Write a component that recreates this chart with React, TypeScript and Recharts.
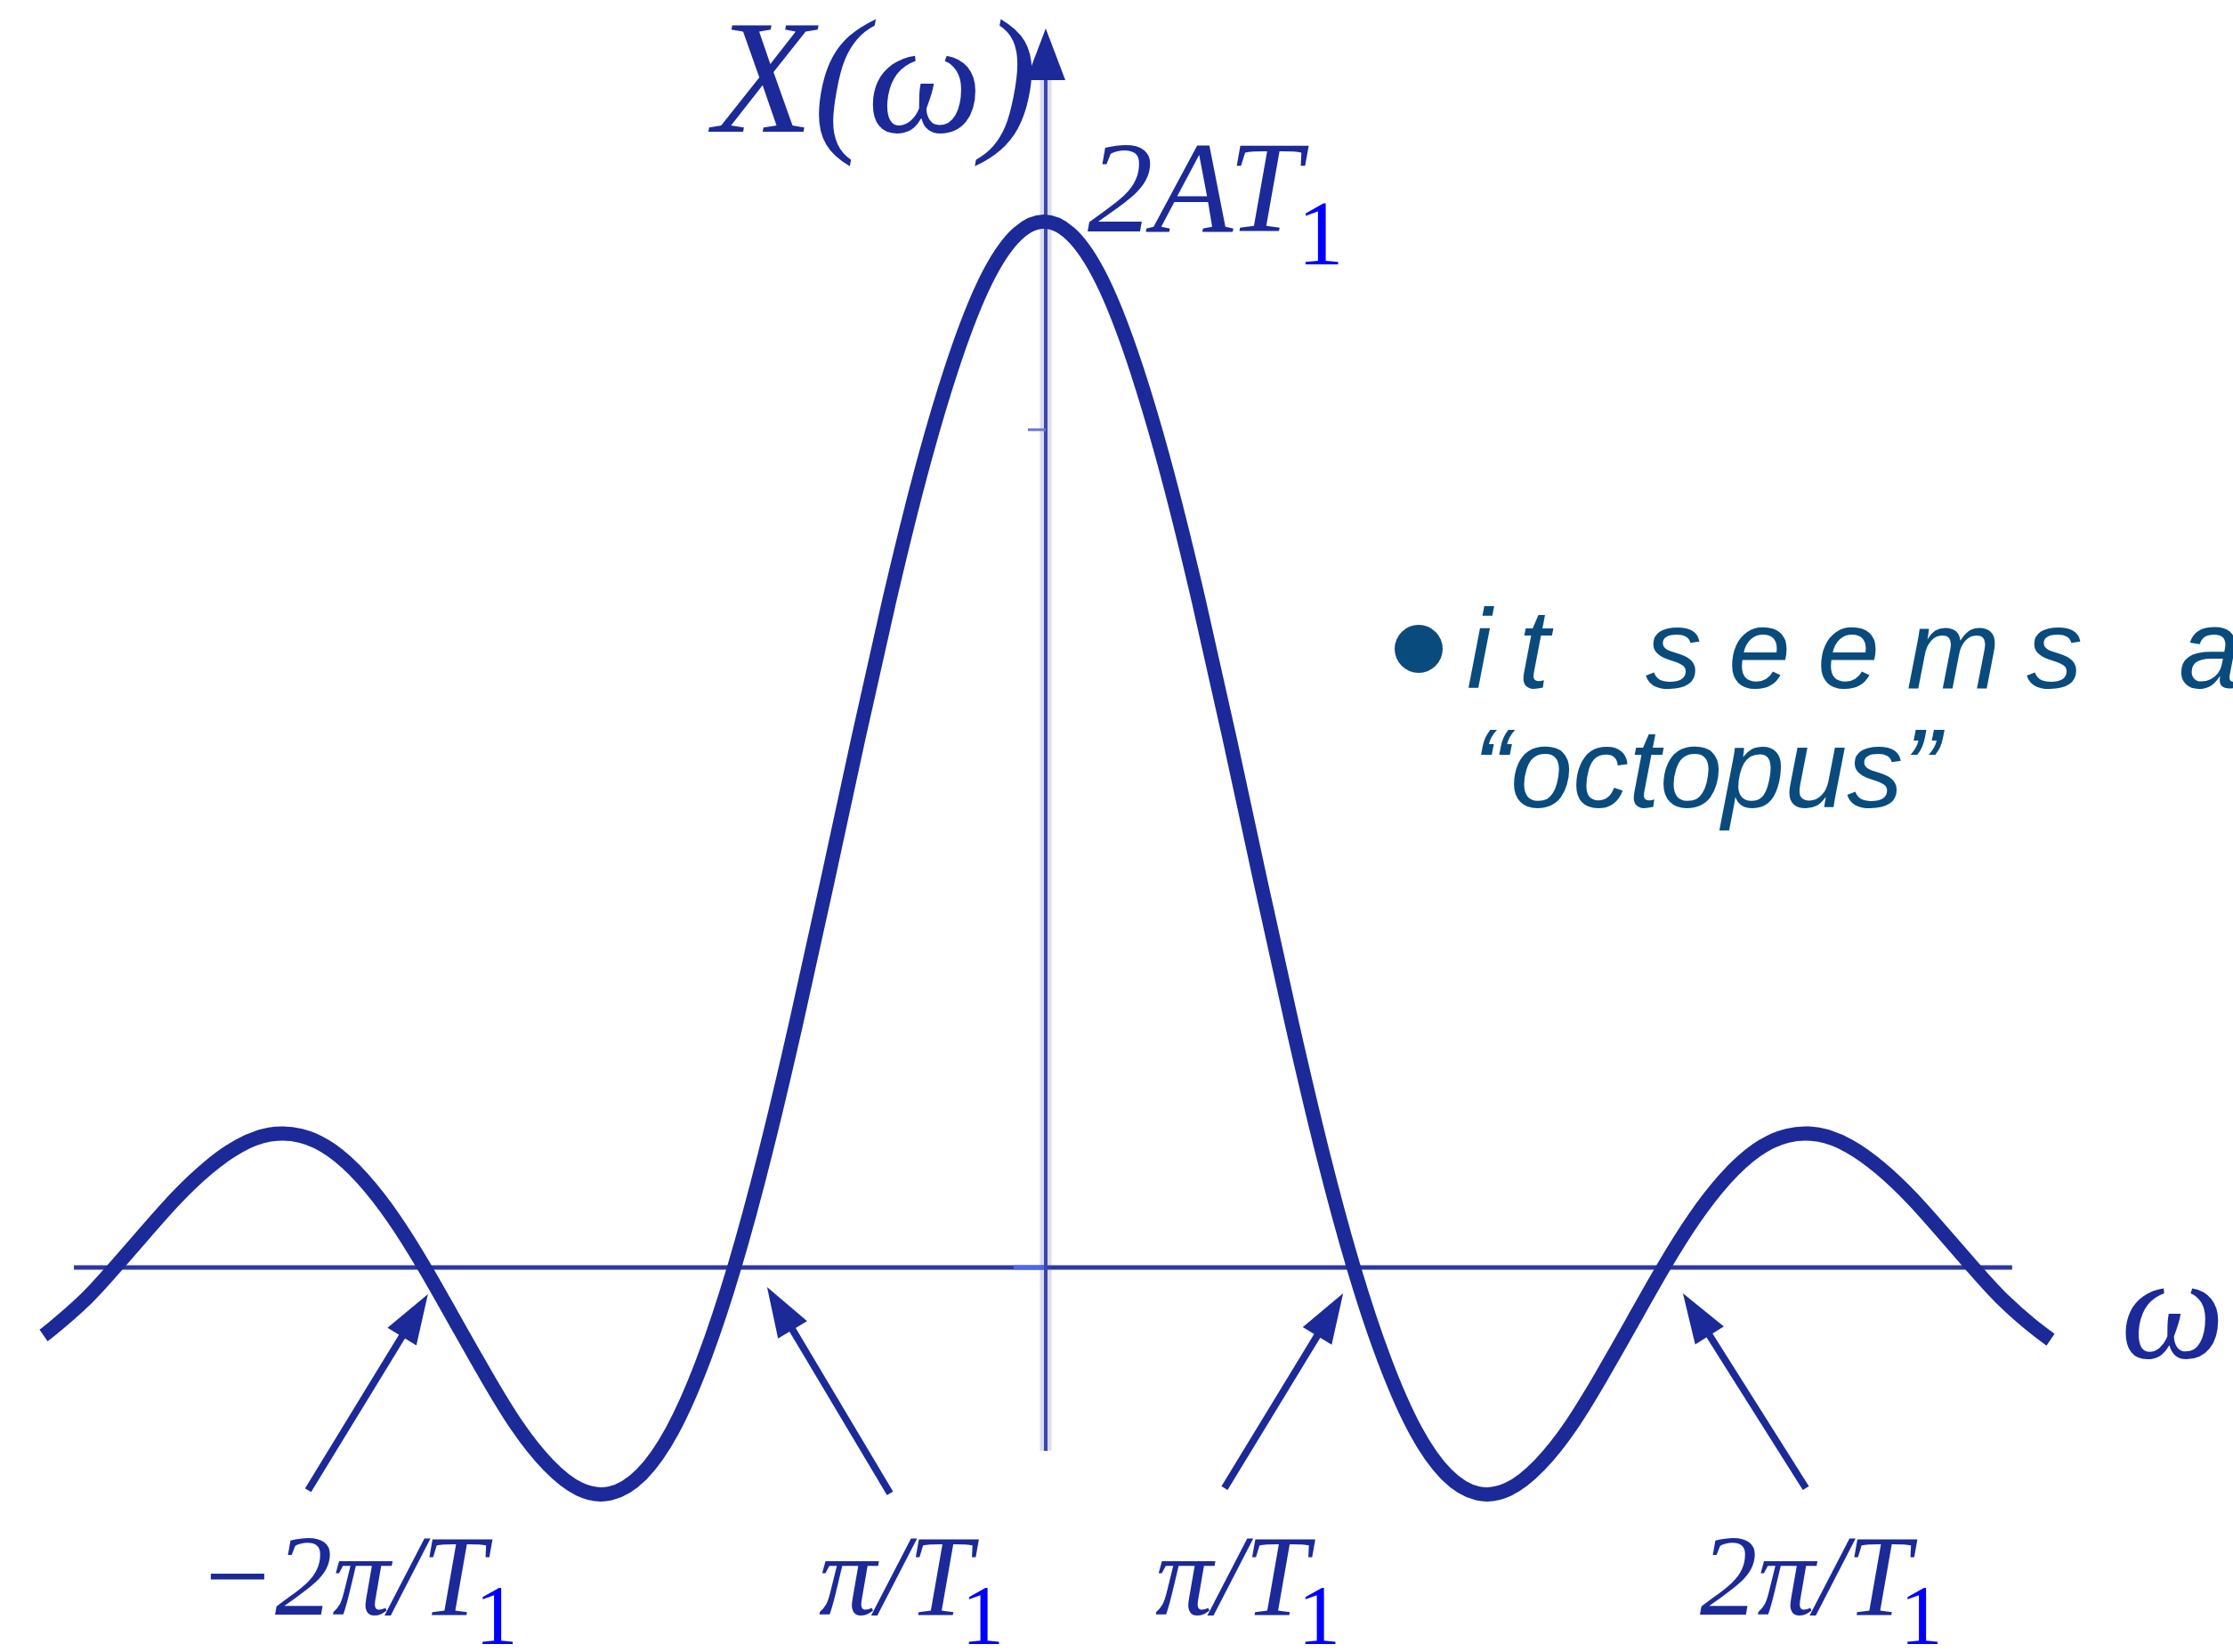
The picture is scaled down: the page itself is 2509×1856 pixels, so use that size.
import React from "react";
import { LineChart, Line, XAxis, YAxis, ReferenceLine, ReferenceDot } from "recharts";

// Frequency, in units of π/T1
const omega = [
  -3.23, -3.2, -3.1, -3.0, -2.9, -2.8, -2.7, -2.6, -2.5, -2.4, -2.3, -2.2, -2.1, -2.0,
  -1.9, -1.8, -1.7, -1.6, -1.5, -1.4, -1.3, -1.2, -1.1, -1.0,
  -0.9, -0.8, -0.7, -0.6, -0.5, -0.4, -0.3, -0.2, -0.1, 0,
  0.1, 0.2, 0.3, 0.4, 0.5, 0.6, 0.7, 0.8, 0.9, 1.0,
  1.1, 1.2, 1.3, 1.4, 1.5, 1.6, 1.7, 1.8, 1.9, 2.0,
  2.1, 2.2, 2.3, 2.4, 2.5, 2.6, 2.7, 2.8, 2.9, 3.0, 3.1, 3.2, 3.25,
];

// X(ω), in units of 2AT1
const amplitude = [
  -0.065, -0.058, -0.032, 0, 0.034, 0.067, 0.095, 0.116, 0.127, 0.126, 0.112, 0.085, 0.047, 0,
  -0.052, -0.104, -0.152, -0.189, -0.212, -0.216, -0.198, -0.156, -0.089, 0,
  0.109, 0.234, 0.368, 0.505, 0.637, 0.757, 0.858, 0.936, 0.984, 1,
  0.984, 0.936, 0.858, 0.757, 0.637, 0.505, 0.368, 0.234, 0.109, 0,
  -0.089, -0.156, -0.198, -0.216, -0.212, -0.189, -0.152, -0.104, -0.052, 0,
  0.047, 0.085, 0.112, 0.126, 0.127, 0.116, 0.095, 0.067, 0.034, 0, -0.032, -0.058, -0.069,
];

// Zero-crossing labels: main text and subscript
const crossingLabels = ["−2π/T", "π/T", "π/T", "2π/T"];
const crossingSub = "1";

const data = omega.map((w, i) => ({ w, x: amplitude[i] }));

const X_MIN = -3.3707;
const X_MAX = 3.8391;
const Y_MIN = -0.3677;
const Y_MAX = 1.2119;

const INK = "#1b2a98";
const AXIS = "#2c38a2";
const SUB = "#0000ff";
const SERIF = "'Liberation Serif', 'Times New Roman', serif";
const SANS = "'Liberation Sans', Arial, Helvetica, sans-serif";
const BULLET = "#0a4b7d";

// Annotation arrows: tail -> tip, in chart units
const arrows = [
  { tail: { x: -2.376, y: -0.213 }, tip: { x: -1.989, y: -0.0255 } },
  { tail: { x: -0.497, y: -0.216 }, tip: { x: -0.894, y: -0.0187 } },
  { tail: { x: 0.583, y: -0.211 }, tip: { x: 0.966, y: -0.0247 } },
  { tail: { x: 2.46, y: -0.211 }, tip: { x: 2.063, y: -0.0247 } },
];

// Start point of each zero-crossing label (baseline)
const labelAnchors = [
  { x: -2.733, y: -0.332 },
  { x: -0.727, y: -0.332 },
  { x: 0.359, y: -0.332 },
  { x: 2.118, y: -0.332 },
];

const makeArrow = (headLen: number, headHalf: number, width: number, color: string, headColor: string) =>
  (props: any) => {
    const { x1, y1, x2, y2 } = props;
    const dx = x2 - x1;
    const dy = y2 - y1;
    const len = Math.hypot(dx, dy) || 1;
    const ux = dx / len;
    const uy = dy / len;
    const bx = x2 - ux * headLen;
    const by = y2 - uy * headLen;
    const px = -uy;
    const py = ux;
    const pts = `${x2},${y2} ${bx + px * headHalf},${by + py * headHalf} ${bx - px * headHalf},${by - py * headHalf}`;
    return (
      <g>
        <line x1={x1} y1={y1} x2={bx + ux * 4} y2={by + uy * 4} stroke={color} strokeWidth={width} />
        <polygon points={pts} fill={headColor} />
      </g>
    );
  };

const annotationArrow = makeArrow(56, 19, 8, INK, INK);
const axisArrow = makeArrow(58, 22, 4, "#3b45aa", INK);

const thinLine = (color: string, width: number) => (props: any) => (
  <line x1={props.x1} y1={props.y1} x2={props.x2} y2={props.y2} stroke={color} strokeWidth={width} />
);

const crossingLabel = (text: string) => (props: any) => (
  <text x={props.cx} y={props.cy} fontFamily={SERIF} fontSize={129} fontStyle="italic" fill={INK}>
    {text}
    <tspan dx={-12} dy={33} fontStyle="normal" fontSize={96} fill={SUB}>
      {crossingSub}
    </tspan>
  </text>
);

const yTitle = (props: any) => (
  <text x={props.cx} y={props.cy} fontFamily={SERIF} fontSize={183} fontStyle="italic" fill={INK}>
    X(ω)
  </text>
);

const peakLabel = (props: any) => (
  <text x={props.cx} y={props.cy} fontFamily={SERIF} fontSize={147} fontStyle="italic" fill={INK}>
    2AT
    <tspan dx={-4} dy={37} fontStyle="normal" fontSize={104} fill={SUB}>
      1
    </tspan>
  </text>
);

const xTitle = (props: any) => (
  <text x={props.cx} y={props.cy} fontFamily={SERIF} fontSize={165} fontStyle="italic" fill={INK}>
    ω
  </text>
);

export default function App() {
  return (
    <div style={{ position: "absolute", left: 0, top: 0, width: 2509, height: 1856, background: "#ffffff" }}>
      <LineChart width={2509} height={1856} data={data} margin={{ top: 0, right: 0, bottom: 0, left: 0 }}>
        <XAxis type="number" dataKey="w" domain={[X_MIN, X_MAX]} allowDataOverflow hide />
        <YAxis type="number" domain={[Y_MIN, Y_MAX]} allowDataOverflow hide />

        {/* ω axis */}
        <ReferenceLine
          segment={[{ x: -3.132, y: 0 }, { x: 3.126, y: 0 }]}
          shape={thinLine(AXIS, 5)}
        />
        <ReferenceLine
          segment={[{ x: -0.098, y: 0 }, { x: 0.0, y: 0 }]}
          shape={thinLine("#4a66ff", 5)}
        />
        {/* X(ω) axis with arrow */}
        <ReferenceLine
          segment={[{ x: 0.0057, y: -0.1753 }, { x: 0.0057, y: 1.14 }]}
          shape={thinLine("rgba(90,96,184,0.22)", 13)}
        />
        <ReferenceLine
          segment={[{ x: 0.0057, y: -0.1753 }, { x: 0.0057, y: 1.1847 }]}
          shape={axisArrow}
        />
        <ReferenceLine
          segment={[{ x: -0.052, y: 0.801 }, { x: 0.0057, y: 0.801 }]}
          shape={thinLine("#6a76d6", 3)}
        />

        {arrows.map((a, i) => (
          <ReferenceLine key={`arrow-${i}`} segment={[a.tail, a.tip]} shape={annotationArrow} />
        ))}

        <Line
          type="natural"
          dataKey="x"
          stroke={INK}
          strokeWidth={16}
          strokeLinecap="butt"
          strokeLinejoin="round"
          dot={false}
          activeDot={false}
          isAnimationActive={false}
        />

        {crossingLabels.map((t, i) => (
          <ReferenceDot
            key={`lbl-${i}`}
            x={labelAnchors[i].x}
            y={labelAnchors[i].y}
            r={0}
            shape={crossingLabel(t)}
          />
        ))}
        <ReferenceDot x={-1.066} y={1.086} r={0} shape={yTitle} />
        <ReferenceDot x={0.141} y={0.9906} r={0} shape={peakLabel} />
        <ReferenceDot x={3.477} y={-0.086} r={0} shape={xTitle} />
      </LineChart>

      <svg
        width={2509}
        height={1856}
        style={{ position: "absolute", left: 0, top: 0, pointerEvents: "none" }}
      >
        <circle cx={1594} cy={729} r={27} fill={BULLET} />
        <text
          x={1648}
          y={773}
          fontFamily={SANS}
          fontStyle="italic"
          fontSize={126}
          letterSpacing={30}
          wordSpacing={13}
          fill={BULLET}
        >
          it seems a
        </text>
        <text x={1655} y={907} fontFamily={SANS} fontStyle="italic" fontSize={126} fill={BULLET}>
          “octopus”
        </text>
      </svg>
    </div>
  );
}
